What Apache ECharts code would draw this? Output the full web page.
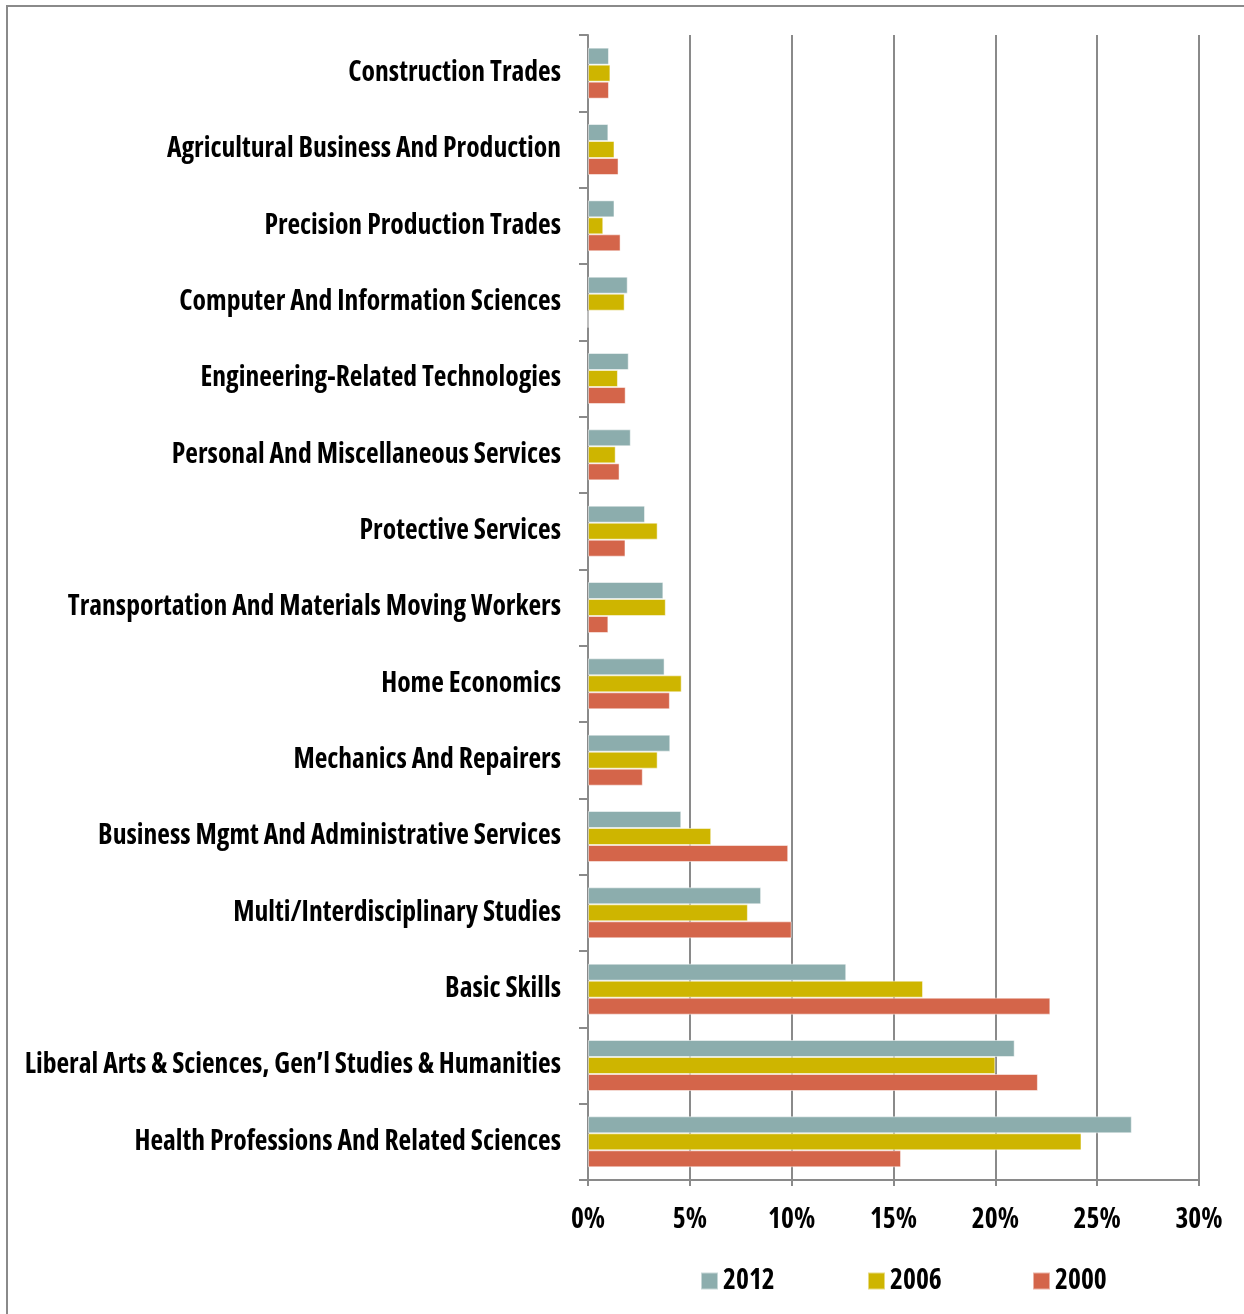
<!DOCTYPE html>
<html>
<head>
<meta charset="utf-8">
<script src="https://cdn.jsdelivr.net/npm/echarts@6/dist/echarts.min.js"></script>
<style>
html,body{margin:0;padding:0;background:#fff;}
#chart{width:1244px;height:1314px;}
</style>
</head>
<body>
<div id="chart"></div>
<script>
const categories = [
  'Construction Trades',
  'Agricultural Business And Production',
  'Precision Production Trades',
  'Computer And Information Sciences',
  'Engineering-Related Technologies',
  'Personal And Miscellaneous Services',
  'Protective Services',
  'Transportation And Materials Moving Workers',
  'Home Economics',
  'Mechanics And Repairers',
  'Business Mgmt And Administrative Services',
  'Multi/Interdisciplinary Studies',
  'Basic Skills',
  'Liberal Arts & Sciences, Gen\u2019l Studies & Humanities',
  'Health Professions And Related Sciences'
];
const seriesNames = ['2012', '2006', '2000'];
const values2012 = [1.03, 1.0, 1.3, 1.95, 2.0, 2.1, 2.8, 3.7, 3.76, 4.04, 4.58, 8.5, 12.68, 20.95, 26.7];
const values2006 = [1.1, 1.3, 0.75, 1.8, 1.47, 1.36, 3.42, 3.82, 4.6, 3.42, 6.05, 7.85, 16.45, 20.0, 24.23];
const values2000 = [1.03, 1.5, 1.6, 0, 1.85, 1.55, 1.84, 1.0, 4.02, 2.69, 9.83, 10.0, 22.7, 22.09, 15.37];
const xTicks = [0, 5, 10, 15, 20, 25, 30];

const colors = ['#8CADAD', '#CEB500', '#D4654A'];

// pick the narrowest installed bold font
const cv = document.createElement('canvas').getContext('2d');
const sample = 'Liberal Arts & Sciences, Gen\u2019l Studies & Humanities';
function meas(weight, fam) {
  cv.font = '10px serif';
  cv.font = weight + ' 100px ' + fam;
  if (cv.font === '10px serif') return null;
  return cv.measureText(sample).width;
}
const candidates = [
  {w: 'bold', f: '"Liberation Sans Narrow"'},
  {w: 'bold condensed', f: '"Noto Sans"'},
  {w: 'bold condensed', f: '"Open Sans"'},
  {w: 'bold condensed', f: 'Roboto'},
  {w: 'bold', f: '"DejaVu Sans Condensed"'},
  {w: 'bold', f: '"Liberation Sans"'}
];
const mono = meas('bold', 'monospace');
let best = {w: 'bold', f: '"DejaVu Sans Condensed"', width: 1e9};
candidates.forEach(c => {
  const a = meas(c.w, c.f + ', monospace');
  if (a == null || Math.abs(a - mono) < 0.01) return;
  if (a < best.width) best = {w: c.w, f: c.f, width: a};
});
const FONT = best.f + ', sans-serif';
const WEIGHT = best.w;
let FS = Math.min(28, 100 * 537 / best.width);
FS = Math.round(FS * 10) / 10;

const chart = echarts.init(document.getElementById('chart'), null, {renderer: 'canvas'});
const allValues = [values2012, values2006, values2000];
const txt = {fontFamily: FONT, fontWeight: WEIGHT, fontSize: FS, color: '#000'};

chart.setOption({
  animation: false,
  color: colors,
  textStyle: {fontFamily: FONT},
  graphic: [{
    type: 'rect',
    shape: {x: 7, y: 6, width: 1260, height: 1340},
    style: {fill: 'none', stroke: '#8a8a8a', lineWidth: 2},
    silent: true
  }],
  grid: {left: 588, right: 45, top: 35, bottom: 134, containLabel: false, outerBoundsMode: 'none'},
  legend: seriesNames.map((n, i) => ({
    data: [n],
    left: [700, 867, 1032][i],
    top: 1267,
    padding: 0,
    itemWidth: 17,
    itemHeight: 17,
    itemGap: 5,
    icon: 'rect',
    textStyle: Object.assign({}, txt)
  })),
  xAxis: {
    type: 'value',
    min: xTicks[0],
    max: xTicks[xTicks.length - 1],
    interval: 5,
    axisLine: {show: true, lineStyle: {color: '#8a8a8a', width: 2}},
    axisTick: {show: true, length: 6, lineStyle: {color: '#8a8a8a', width: 2}},
    splitLine: {show: true, lineStyle: {color: '#8a8a8a', width: 2}},
    axisLabel: Object.assign({formatter: '{value}%', margin: 26}, txt)
  },
  yAxis: {
    type: 'category',
    inverse: true,
    data: categories,
    axisLine: {show: true, lineStyle: {color: '#8a8a8a', width: 2}},
    axisTick: {show: true, length: 9, lineStyle: {color: '#8a8a8a', width: 2}},
    axisLabel: Object.assign({margin: 27, padding: [4, 0, 0, 0]}, txt)
  },
  series: seriesNames.map((n, i) => ({
    name: n,
    type: 'bar',
    data: allValues[i],
    barWidth: 17,
    barGap: '0%',
    itemStyle: {color: colors[i], borderColor: 'rgba(255,255,255,0.5)', borderWidth: 1}
  }))
});
</script>
</body>
</html>
